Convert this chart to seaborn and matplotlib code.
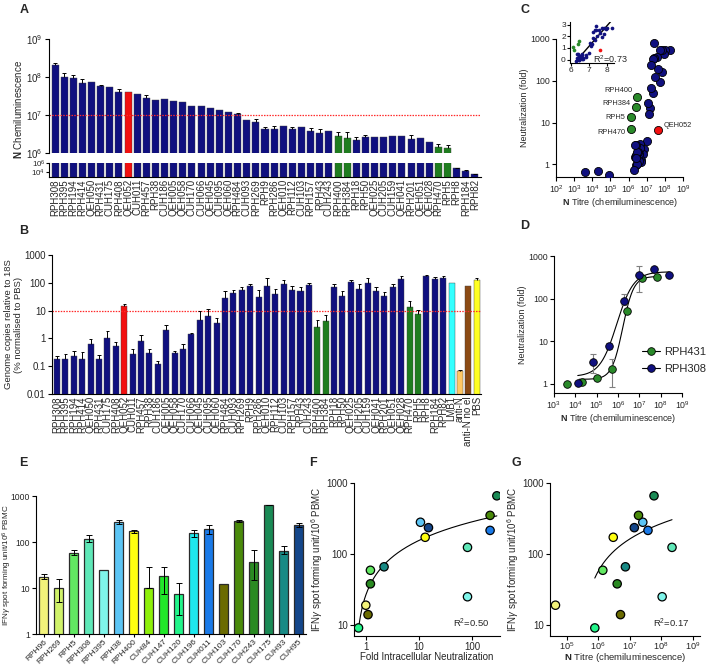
import numpy as np
import pandas as pd
import matplotlib
matplotlib.use("Agg")
import matplotlib.pyplot as plt
import matplotlib.ticker as mticker
from matplotlib.lines import Line2D
import seaborn as sns

sns.set_style("ticks")
plt.rcParams['font.family'] = ['Liberation Sans', 'DejaVu Sans']
plt.rcParams['mathtext.fontset'] = 'custom'
plt.rcParams['mathtext.rm'] = 'Liberation Sans'
plt.rcParams['mathtext.it'] = 'Liberation Sans:italic'
plt.rcParams['mathtext.bf'] = 'Liberation Sans:bold'
plt.rcParams['axes.linewidth'] = 0.8
plt.rcParams['axes.edgecolor'] = 'black'

# ---------------- data ----------------
a_names = ["RPH308","RPH395","RPH194","RPH414","QEH050","RPH431","CUH175","RPH408","QEH052","CUH011",
           "RPH457","RPH38","CUH186","QEH005","QEH058","CUH170","CUH066","QEH045","CUH095","QEH060",
           "RPH484","CUH093","RPH269","RPH9","RPH286","QEH010","RPH112","CUH103","RPH157","RPH43",
           "CUH243","RPH400","RPH384","RPH18","RPH50","QEH025","CUH205","CUH159","QEH041","RPH201",
           "QEH051","QEH028","RPH470","RPH5","RPH8","RPH184","RPH82"]
a_titre = [2.03e8,1.0e8,9.2e7,7.1e7,7.4e7,5.7e7,5.5e7,4.0e7,4.0e7,3.5e7,
           2.86e7,2.48e7,2.6e7,2.33e7,2.24e7,1.76e7,1.69e7,1.53e7,1.33e7,1.18e7,
           1.04e7,7.2e6,6.55e6,4.37e6,4.37e6,5.0e6,4.2e6,4.9e6,3.8e6,3.3e6,
           3.9e6,2.86e6,2.48e6,2.2e6,2.64e6,2.7e6,2.7e6,2.86e6,2.86e6,2.3e6,
           2.43e6,1.99e6,1.45e6,1.36e6,8.7e4,2.2e4,4.0e3]
a_err = [3.5e7,2.5e7,1.8e7,1.8e7,0,5e6,0,7e6,0,0,
         5.4e6,0,0,0,0,0,0,0,0,0,
         1.1e6,0,1.15e6,5.6e5,7.3e5,0,7e5,0,8e5,1.1e6,
         0,6.4e5,1.0e6,4e5,2.6e5,0,0,0,0,7e5,
         0,0,2.8e5,2.4e5,1e4,3e3,1e3]
red_samples = ["QEH052"]
green_samples = ["RPH400","RPH384","RPH470","RPH5"]

b_extra = ["LMB1","anti-N","anti-N no el","PBS"]
b_pct = [0.18,0.18,0.23,0.18,0.62,0.18,1.05,0.52,14.8,0.27,
         0.83,0.29,0.125,1.95,0.30,0.43,1.5,4.6,6.3,3.5,
         28,44,55,78,32,76,40,89,56,51,
         83,2.5,4.4,68,34,105,60,100,50,34,
         72,139,14,7.5,180,140,155,102,0.066,74,128]
b_upper = [0.24,0.27,0.345,0.32,0.99,0.25,1.81,0.77,18,0.43,
           1.34,0.40,0.16,3.15,0.355,0.65,1.6,9.3,11.6,5.2,
           51,57,72,88,56,148,62,126,78,70,
           98,4.7,6.9,91,49,129,89,155,70,46,
           87,170,22,10.7,190,158,174,102,0.075,74,148]
b_extra_colors = ["#33ffff","#ffc864","#8b4a14","#ffff22"]

c_fold = [556,556,435,556,161,556,95,192,6.8,370,
          120,345,800,51,333,233,67,22,16,29,
          3.6,2.3,1.8,1.28,3.1,1.3,2.5,1.12,1.8,1.96,
          1.2,40,23,1.47,2.9,0.95,1.67,1.0,2.0,2.9,
          1.39,0.72,7.1,13.3,0.56,0.71,0.65]
c_labels = ["RPH400","RPH384","RPH5","RPH470","QEH052"]

d431_titre = [4.1e3,1.95e4,1.0e5,5.2e5,2.6e6,1.4e7,7.1e7]
d431_fold = [1.0,1.1,1.36,2.25,51,300,325]
d431_lo = [0.03,0.03,0.15,1.43,5,20,15]
d431_hi = [0.03,0.03,0.15,1.55,5,20,15]
d308_titre = [1.35e4,7.1e4,3.7e5,1.9e6,9.8e6,4.9e7,2.5e8]
d308_fold = [1.05,3.3,7.8,88,357,505,357]
d308_lo = [0.03,1.55,1.3,18,212,30,30]
d308_hi = [0.03,1.6,1.4,37,223,30,30]
# fitted sigmoid parameters (log10 fold): bottom, top, logEC50, hill
fit431 = (0.10, 2.52, 6.22, 1.7)
fit308 = (0.165, 2.63, 5.94, 1.1)

e_names = ["RPH96","RPH269","RPH5","RPH308","RPH395","RPH38","RPH400","CUH84","CUH147","CUH120",
           "CUH196","CUH011","CUH103","CUH170","CUH243","CUH175","CUH93","CUH95"]
e_sfu = [17.5,10,58,119,25,275,170,10,17.8,7.4,155,190,12.3,288,37.6,640,65,230]
e_err_lo = [1.8,5.1,6,20,0,30,10,0,10.3,4.8,25,42,0,13,22.6,10,10,20]
e_err_hi = [2.5,5.4,8,23,0,30,12,18,10.2,5.2,28,50,0,12,30.4,10,15,30]
e_colors = ["#f2f27a","#d0f26a","#62e862","#5fe8b8","#7ff5ea","#5cc5f5","#ffff10","#8ef00a",
            "#22e82a","#22f58a","#1ee8ee","#1a7ae8","#6b6b00","#4a8a0a","#2a8a22","#1a8a55",
            "#188a85","#14468a"]

fg_names = ["CUH120","RPH96","CUH103","RPH5","CUH243","CUH93","RPH38","CUH95","RPH400",
            "RPH308","RPH395","CUH175","CUH170","CUH011"]
f_fold = [0.73,1.0,1.1,1.22,1.22,2.2,10.6,15,13,81,81,288,215,215]
fg_sfu = [9.1,19,14,59,38,66,280,235,172,124,25,660,350,215]
g_titre = [7.8e5,4.4e4,5.1e6,1.4e6,4e6,7.3e6,2.6e7,1.4e7,3e6,2.2e8,1.07e8,5.9e7,1.9e7,3.8e7]

NAVY = "#10107f"
GREEN = "#1f7d1f"
RED = "#f21010"
PGREEN = "#2a8a2a"

# ---------------- layout ----------------
W, H = 709, 666
fig = plt.figure(figsize=(W/100, H/100), dpi=100)

def add_ax(l, t, r, b):
    return fig.add_axes([l/W, 1-b/H, (r-l)/W, (b-t)/H])

def style(ax, ls=6.5):
    sns.despine(ax=ax)
    ax.tick_params(axis='both', which='major', length=3, width=0.8, labelsize=ls, pad=1.5, color='k')
    ax.tick_params(axis='both', which='minor', length=0)

def plain(v, p):
    return f"{v:g}"

def upper_caps(ax, xs, lows, highs, width=0.22, lw=0.7):
    xs = np.asarray(xs, float); lows = np.asarray(lows); highs = np.asarray(highs)
    m = highs > lows
    ax.vlines(xs[m], lows[m], highs[m], color='k', lw=lw, zorder=3)
    ax.hlines(highs[m], xs[m]-width, xs[m]+width, color='k', lw=lw, zorder=3)

# ---------- A ----------
a_colors = [RED if n in red_samples else GREEN if n in green_samples else NAVY for n in a_names]
df_a = pd.DataFrame({"sample": a_names, "titre": a_titre})
axA1 = add_ax(49, 39, 481, 153)
axA2 = add_ax(49, 163, 481, 177)
for ax in (axA1, axA2):
    sns.barplot(data=df_a, x="sample", y="titre", hue="sample", palette=a_colors, legend=False,
                width=0.77, saturation=1, edgecolor="#404040", linewidth=0.3, ax=ax)
    ax.set_yscale("log")
    ax.set_xlim(-0.66, len(a_names) - 0.34)
    style(ax, 7)
    ax.yaxis.set_minor_locator(mticker.NullLocator())
    ax.set_xlabel("")
    ax.set_ylabel("")
axA1.set_ylim(1e6, 1e9)
axA1.set_yticks([1e6, 1e7, 1e8, 1e9])
axA1.spines['bottom'].set_visible(False)
axA1.set_xticks([])
axA1.axhline(1e7, color="#ff2a2a", lw=0.9, ls=(0, (1.2, 1.0)))
upper_caps(axA1, np.arange(len(a_names)), a_titre, np.array(a_titre) + np.array(a_err))
axA1.set_ylabel(r"$\mathbf{N}$ Chemiluminescence", fontsize=7, labelpad=3)
axA1.yaxis.set_label_coords(-0.058, 0.38)
axA2.set_ylim(1e3, 1e6)
axA2.set_yticks([1e4, 1e6])
axA2.tick_params(axis='y', labelsize=5.8, pad=0.5, length=2)
upper_caps(axA2, np.arange(len(a_names)), a_titre, np.array(a_titre) + np.array(a_err))
axA2.set_xticks(np.arange(len(a_names)))
axA2.set_xticklabels(a_names, rotation=90, fontsize=7)
axA2.tick_params(axis='x', length=0, pad=1.5)

# ---------- B ----------
b_names = a_names + b_extra
b_colors = a_colors + b_extra_colors
df_b = pd.DataFrame({"sample": b_names, "pct": b_pct})
axB = add_ax(52, 255, 481, 394)
sns.barplot(data=df_b, x="sample", y="pct", hue="sample", palette=b_colors, legend=False,
            width=0.72, saturation=1, edgecolor="#404040", linewidth=0.3, ax=axB)
axB.set_yscale("log")
axB.set_ylim(0.01, 1000)
axB.set_xlim(-0.6, len(b_names) - 0.5)
style(axB, 7)
axB.yaxis.set_minor_locator(mticker.NullLocator())
axB.set_yticks([0.01, 0.1, 1, 10, 100, 1000])
axB.yaxis.set_major_formatter(mticker.FuncFormatter(plain))
axB.axhline(10, color="#ff2a2a", lw=0.9, ls=(0, (1.2, 1.0)))
upper_caps(axB, np.arange(len(b_names)), b_pct, b_upper, width=0.2)
axB.set_xticks(np.arange(len(b_names)))
axB.set_xticklabels(b_names, rotation=90, fontsize=7)
axB.tick_params(axis='x', length=0, pad=1.5)
axB.set_xlabel("")
axB.set_ylabel("Genome copies relative to 18S\n(% normalised to PBS)", fontsize=6.8, linespacing=1.05)
axB.yaxis.set_label_coords(-0.068, 0.5)

# ---------- C ----------
c_group = ["red" if n in red_samples else "green" if n in green_samples else "navy" for n in a_names]
df_c = pd.DataFrame({"sample": a_names, "titre": a_titre, "fold": c_fold, "group": c_group})
axC = add_ax(556, 39, 683, 177)
pal_c = {"navy": NAVY, "green": PGREEN, "red": RED}
for g in ["navy", "green", "red"]:
    sns.scatterplot(data=df_c[df_c.group == g], x="titre", y="fold", color=pal_c[g], s=34,
                    edgecolor="k", linewidth=0.6, ax=axC, legend=False, zorder=3)
axC.set_xscale("log"); axC.set_yscale("log")
axC.set_xlim(1e2, 1e9); axC.set_ylim(0.5, 1000)
style(axC, 6.3)
axC.xaxis.set_minor_locator(mticker.NullLocator()); axC.yaxis.set_minor_locator(mticker.NullLocator())
axC.set_xticks([1e2, 1e3, 1e4, 1e5, 1e6, 1e7, 1e8, 1e9])
axC.set_yticks([1, 10, 100, 1000])
axC.yaxis.set_major_formatter(mticker.FuncFormatter(plain))
axC.set_xlabel(r"$\mathbf{N}$ Titre (chemiluminescence)", fontsize=6.5, labelpad=1)
axC.set_ylabel("Neutralization (fold)", fontsize=6.5, labelpad=1)
offs = {"RPH400": (-3, 5, 'right'), "RPH384": (-4, 3, 'right'), "RPH5": (-4.5, 0, 'right'),
        "RPH470": (-4.5, -3, 'right'), "QEH052": (4, 3, 'left')}
for n in c_labels:
    i = a_names.index(n)
    dx, dy, ha = offs[n]
    axC.annotate(n, (a_titre[i], c_fold[i]), xytext=(dx, dy), textcoords="offset points",
                 ha=ha, va="center", fontsize=5.3)

axCi = add_ax(570, 22, 614, 63)
df_ci = pd.DataFrame({"lx": np.log10(a_titre), "ly": np.log10(c_fold), "group": c_group})
for g in ["navy", "green", "red"]:
    sub = df_ci[(df_ci.group == g) & (df_ci.lx >= 5.95)]
    sns.scatterplot(data=sub, x="lx", y="ly", color=pal_c[g], s=7, linewidth=0, ax=axCi,
                    legend=False, zorder=3)
fit_sub = df_ci[(df_ci.group == "navy") & (df_ci.lx >= 6)]
sns.regplot(data=fit_sub, x="lx", y="ly", scatter=False, ci=None, truncate=True,
            line_kws=dict(color="k", lw=1.0), ax=axCi)
axCi.set_xlim(5.95, 8.4); axCi.set_ylim(-0.3, 3.25)
style(axCi, 6)
axCi.tick_params(length=2, pad=1)
axCi.set_xticks([6, 7, 8]); axCi.set_yticks([0, 1, 2, 3])
axCi.set_xlabel(""); axCi.set_ylabel("")
axCi.patch.set_alpha(0)
axCi.text(0.52, 0.1, r"R$^2$=0.73", transform=axCi.transAxes, fontsize=6.5, ha="left", va="center")

# ---------- D ----------
axD = add_ax(554, 256, 682, 393)
def sigmoid(logx, p):
    b, t, ec, h = p
    return 10 ** (b + (t - b) / (1 + 10 ** ((ec - logx) * h)))
for tit, fold, lo, hi, col, p, xmin in [
        (d431_titre, d431_fold, d431_lo, d431_hi, PGREEN, fit431, 1.5e4),
        (d308_titre, d308_fold, d308_lo, d308_hi, NAVY, fit308, 1.3e4)]:
    xs = np.geomspace(xmin, max(tit), 300)
    axD.plot(xs, sigmoid(np.log10(xs), p), color="k", lw=0.8, zorder=2)
    axD.errorbar(tit, fold, yerr=[lo, hi], fmt="none", ecolor="#808080", elinewidth=0.8,
                 capsize=2, capthick=0.8, zorder=2.5)
    sns.scatterplot(x=tit, y=fold, color=col, s=30, edgecolor="k", linewidth=0.6, ax=axD,
                    legend=False, zorder=3)
axD.set_xscale("log"); axD.set_yscale("log")
axD.set_xlim(1e3, 1e9); axD.set_ylim(0.6, 1000)
style(axD, 6.3)
axD.xaxis.set_minor_locator(mticker.NullLocator()); axD.yaxis.set_minor_locator(mticker.NullLocator())
axD.set_xticks([1e3, 1e4, 1e5, 1e6, 1e7, 1e8, 1e9])
axD.set_yticks([1, 10, 100, 1000])
axD.yaxis.set_major_formatter(mticker.FuncFormatter(plain))
axD.set_xlabel(r"$\mathbf{N}$ Titre (chemiluminescence)", fontsize=6.5, labelpad=1)
axD.set_ylabel("Neutralization (fold)", fontsize=6.5, labelpad=1)
handles = [Line2D([0], [0], color="k", lw=0.8, marker="o", ms=5.5, mfc=PGREEN, mec="k", mew=0.6),
           Line2D([0], [0], color="k", lw=0.8, marker="o", ms=5.5, mfc=NAVY, mec="k", mew=0.6)]
fig.legend(handles, ["RPH431", "RPH308"], loc="upper left", bbox_to_anchor=(642/W, 1-347/H),
           frameon=False, fontsize=8, handlelength=1.6, handletextpad=0.35, labelspacing=0.65,
           borderpad=0, borderaxespad=0)

# ---------- E ----------
df_e = pd.DataFrame({"donor": e_names, "sfu": e_sfu})
axE = add_ax(36, 496, 306, 634)
sns.barplot(data=df_e, x="donor", y="sfu", hue="donor", palette=e_colors, legend=False,
            width=0.62, saturation=1, edgecolor="#2a2a2a", linewidth=0.9, ax=axE)
axE.set_yscale("log")
axE.set_ylim(1, 1000)
axE.set_xlim(-0.5, len(e_names) - 0.5)
style(axE, 6.2)
axE.yaxis.set_minor_locator(mticker.NullLocator())
axE.set_yticks([1, 10, 100, 1000])
axE.yaxis.set_major_formatter(mticker.FuncFormatter(plain))
e_lo = np.array(e_err_lo); e_hi = np.array(e_err_hi)
m = (e_lo + e_hi) > 0
axE.errorbar(np.arange(len(e_names))[m], np.array(e_sfu)[m], yerr=[e_lo[m], e_hi[m]], fmt="none",
             ecolor="k", elinewidth=0.7, capsize=2, capthick=0.7, zorder=3)
axE.set_xticks(np.arange(len(e_names)))
axE.set_xticklabels(e_names, rotation=45, ha="right", rotation_mode="anchor", fontsize=6)
axE.tick_params(axis='x', length=2, pad=1)
axE.set_xlabel("")
axE.set_ylabel(r"IFN$\gamma$ spot forming unit/10$^{6}$ PBMC", fontsize=5.9)
axE.yaxis.set_label_coords(-0.083, 0.5)

# ---------- F ----------
e_col_map = dict(zip(e_names, e_colors))
fg_cols = [e_col_map[n] for n in fg_names]
df_fg = pd.DataFrame({"donor": fg_names, "fold": f_fold, "titre": g_titre, "sfu": fg_sfu})
axF = add_ax(354, 483, 500, 636)
coefF = np.polyfit(np.log10(df_fg.fold), df_fg.sfu, 1)
xsF = np.geomspace(df_fg.fold.min(), df_fg.fold.max(), 300)
axF.plot(xsF, np.polyval(coefF, np.log10(xsF)), color="k", lw=0.8, zorder=2)
sns.scatterplot(data=df_fg, x="fold", y="sfu", hue="donor", palette=fg_cols, s=36,
                edgecolor="k", linewidth=0.9, ax=axF, legend=False, zorder=3)
axF.set_xscale("log"); axF.set_yscale("log")
axF.set_xlim(0.6, 330); axF.set_ylim(7, 1000)
style(axF, 7)
axF.xaxis.set_minor_locator(mticker.NullLocator()); axF.yaxis.set_minor_locator(mticker.NullLocator())
axF.set_xticks([1, 10, 100]); axF.set_yticks([10, 100, 1000])
axF.xaxis.set_major_formatter(mticker.FuncFormatter(plain))
axF.yaxis.set_major_formatter(mticker.FuncFormatter(plain))
axF.tick_params(axis='x', pad=1)
axF.set_xlabel("Fold Intracellular Neutralization", fontsize=7, labelpad=0)
axF.set_ylabel(r"IFN$\gamma$ spot forming unit/10$^{6}$ PBMC", fontsize=7, labelpad=1)
axF.text(0.93, 0.085, r"R$^2$=0.50", transform=axF.transAxes, fontsize=6.8, ha="right", va="center")

# ---------- G ----------
axG = add_ax(550, 483, 700, 636)
fitG = df_fg[df_fg.titre > 1e5]
coefG = np.polyfit(np.log10(fitG.titre), fitG.sfu, 1)
xsG = np.geomspace(fitG.titre.min(), fitG.titre.max(), 300)
axG.plot(xsG, np.polyval(coefG, np.log10(xsG)), color="k", lw=0.8, zorder=2)
sns.scatterplot(data=df_fg, x="titre", y="sfu", hue="donor", palette=fg_cols, s=36,
                edgecolor="k", linewidth=0.9, ax=axG, legend=False, zorder=3)
axG.set_xscale("log"); axG.set_yscale("log")
axG.set_xlim(2.95e4, 1.7e9); axG.set_ylim(7, 1000)
style(axG, 7)
axG.xaxis.set_minor_locator(mticker.NullLocator()); axG.yaxis.set_minor_locator(mticker.NullLocator())
axG.set_xticks([1e5, 1e6, 1e7, 1e8, 1e9]); axG.set_yticks([10, 100, 1000])
axG.yaxis.set_major_formatter(mticker.FuncFormatter(plain))
axG.tick_params(axis='x', pad=0, labelsize=6.6)
axG.set_xlabel(r"$\mathbf{N}$ Titre (chemiluminescence)", fontsize=6.8, labelpad=-0.5)
axG.set_ylabel(r"IFN$\gamma$ spot forming unit/10$^{6}$ PBMC", fontsize=7, labelpad=1)
axG.text(0.93, 0.085, r"R$^2$=0.17", transform=axG.transAxes, fontsize=6.8, ha="right", va="center")

# ---------- panel letters ----------
for letter, (x, y) in {"A": (24, 10), "B": (24, 231), "C": (525, 10), "D": (525, 226),
                       "E": (23, 463), "F": (313, 463), "G": (516, 463)}.items():
    fig.text(x/W, 1-y/H, letter, fontsize=9, fontweight="bold", ha="center", va="center")

fig.savefig("out.png", dpi=100)
